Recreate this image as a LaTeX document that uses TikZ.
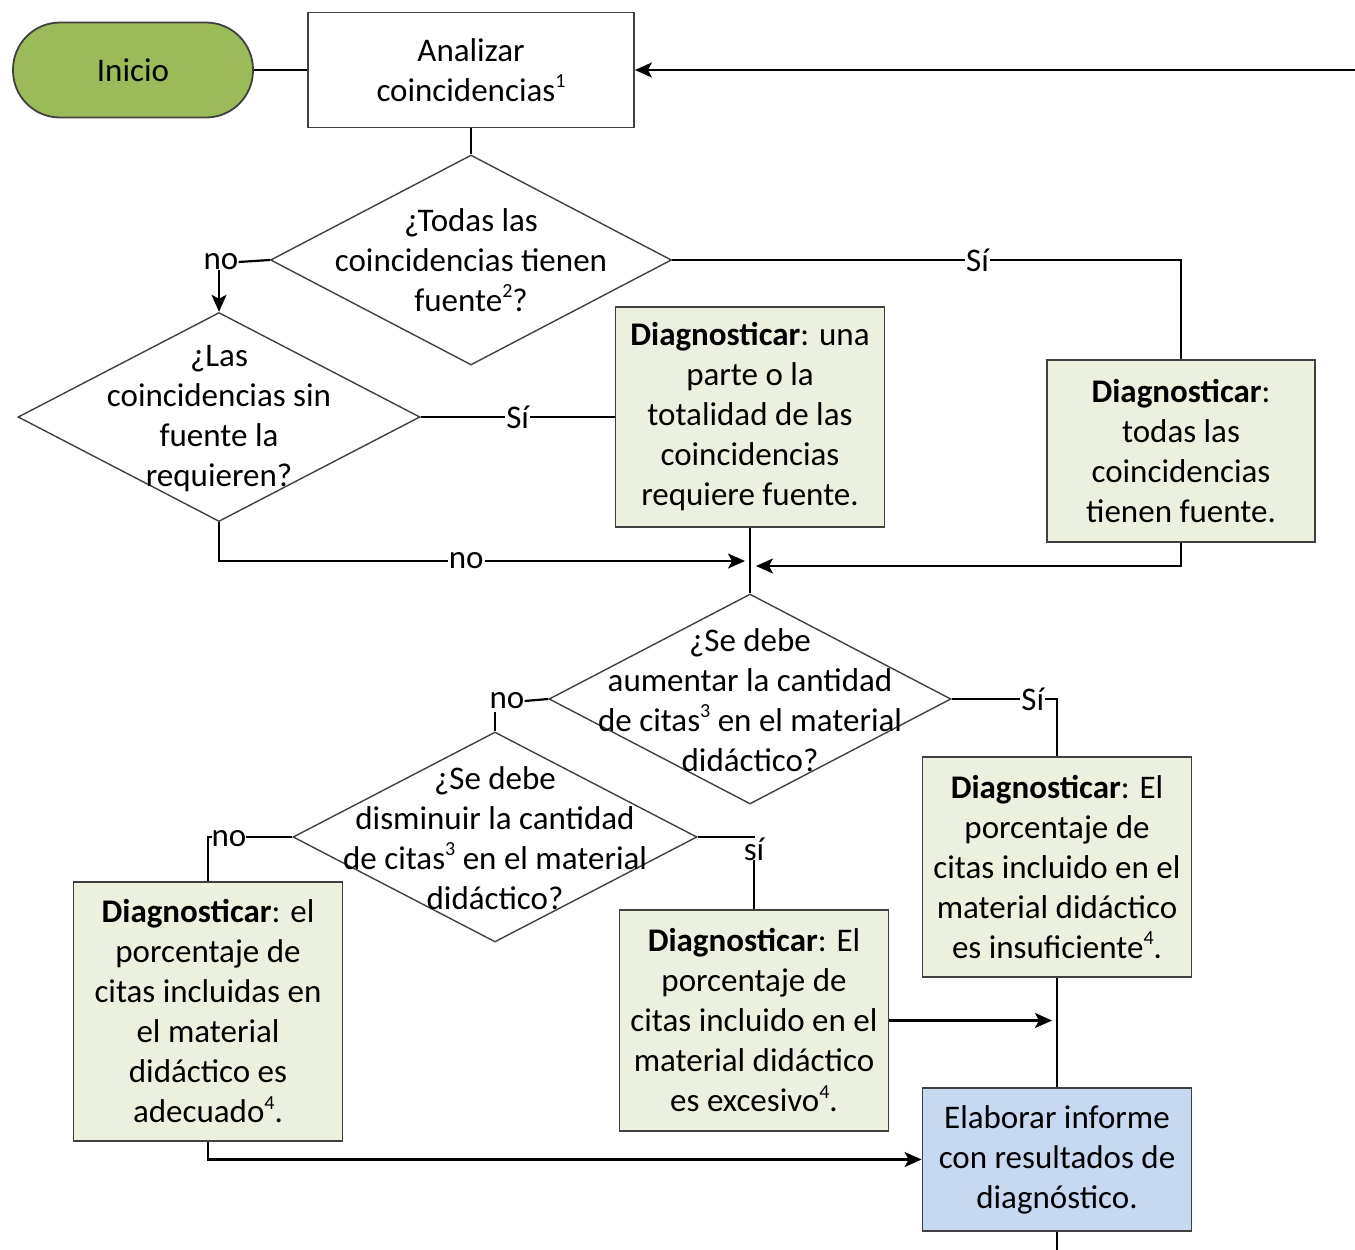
\documentclass[tikz,border=0pt]{standalone}
\usepackage{fontspec}
\setmainfont{Carlito}
\usetikzlibrary{shapes.geometric,arrows.meta}
\definecolor{startgreen}{HTML}{9BBB59}
\definecolor{diaggreen}{HTML}{EBF1DE}
\definecolor{repblue}{HTML}{C6D9F1}
\definecolor{bordergray}{HTML}{404040}
\newcommand\supnum[1]{\raisebox{0.42em}{\fontsize{20}{20}\selectfont #1}}
\begin{document}
\begin{tikzpicture}[x=1pt,y=-1pt,
  txt/.style={font=\fontsize{33}{40}\selectfont},
  box/.style={txt,draw=bordergray,line width=1.8pt,align=center,inner sep=0pt},
  diagbox/.style={box,fill=diaggreen,minimum width=269pt},
  dia/.style={draw=bordergray,line width=1.4pt,diamond,inner sep=0pt},
  dtext/.style={txt,align=center,inner sep=0pt},
  conn/.style={line width=2.2pt,black},
  arr/.style={conn,-{Stealth[length=17pt,width=15pt,inset=4pt]}},
  lab/.style={txt,fill=white,inner sep=1pt}]
\useasboundingbox (0,0) rectangle (1355,1250);

% nodes
\node[box,fill=startgreen,draw=bordergray,rounded corners=47pt,minimum width=240pt,minimum height=95pt] (ini) at (133,70) {Inicio};
\node[box,fill=white,minimum width=326pt,minimum height=115pt] (ana) at (471,70) {Analizar\\coincidencias\supnum{1}};

\node[dia,minimum width=401pt,minimum height=210pt] (d1) at (471,260) {};
\node[dtext] (t1) at (471,260) {¿Todas las\\coincidencias tienen\\fuente\supnum{2}?};

\node[dia,minimum width=402pt,minimum height=209pt] (d2) at (219,417) {};
\node[dtext] (t2) at (219,419) {¿Las\\coincidencias sin\\fuente la\\requieren?};

\node[diagbox,minimum height=220pt] (dg2) at (750,417) {\textbf{Diagnosticar}: una\\parte o la\\totalidad de las\\coincidencias\\requiere fuente.};
\node[diagbox,minimum width=268pt,minimum height=182pt] (dg3) at (1181,451) {\textbf{Diagnosticar}:\\todas las\\coincidencias\\tienen fuente.};

\node[dia,minimum width=402pt,minimum height=210pt] (d3) at (750,699) {};
\node[dtext] (t3) at (750,700) {¿Se debe\\aumentar la cantidad\\de citas\supnum{3} en el material\\didáctico?};

\node[dia,minimum width=404pt,minimum height=210pt] (d4) at (495,837) {};
\node[dtext] (t4) at (495,838) {¿Se debe\\disminuir la cantidad\\de citas\supnum{3} en el material\\didáctico?};

\node[diagbox,minimum height=220pt] (dg4) at (1057,867) {\textbf{Diagnosticar}: El\\porcentaje de\\citas incluido en el\\material didáctico\\es insuficiente\supnum{4}.};
\node[diagbox,minimum height=221pt] (dg4b) at (754,1020.5) {\textbf{Diagnosticar}: El\\porcentaje de\\citas incluido en el\\material didáctico\\es excesivo\supnum{4}.};
\node[diagbox,minimum height=259pt] (dg5) at (208,1011.5) {\textbf{Diagnosticar}: el\\porcentaje de\\citas incluidas en\\el material\\didáctico es\\adecuado\supnum{4}.};
\node[box,fill=repblue,minimum width=269pt,minimum height=143pt] (rep) at (1057,1159.5) {Elaborar informe\\con resultados de\\diagnóstico.};

% coordinates
\coordinate (loopin) at (1355,70);
\coordinate (j1) at (745,561);
\coordinate (j2) at (756,566);
\coordinate (j3) at (1052,1020.5);
\coordinate (bot) at (1057,1250);

% connectors
\draw[conn] (ini.east) -- (ana.west);
\draw[arr] (loopin) -- (ana.east);
\draw[conn] (ana.south) -- (d1.north);

\draw[conn] (d1.east) -- node[lab,pos=0.6]{Sí} (d1.east -| dg3.north) -- (dg3.north);
\node[lab,inner sep=0pt] (no1) at (221,262) {no};
\draw[conn] (d1.west) -- (no1.east);
\draw[arr] (d2.north |- no1.south) -- (d2.north);

\draw[conn] (d2.east) -- node[lab]{Sí} (dg2.west);
\draw[arr] (d2.south) |- node[lab,pos=0.735]{no} (j1);
\draw[conn] (dg2.south) -- (d3.north);
\draw[arr] (dg3.south) |- (j2);

\node[lab,inner sep=0pt] (no3) at (507,701) {no};
\draw[conn] (d3.west) -- (no3.east);
\draw[conn] ([yshift=-3pt]d4.north |- no3.south) -- (d4.north);
\draw[conn] (d3.east) -- node[lab,pos=0.77]{Sí} (d3.east -| dg4.north) -- (dg4.north);

\draw[conn] (d4.west) -- (d4.west -| dg5.north) -- (dg5.north);
\node[lab,inner sep=0pt] (no4) at (229,839) {no};
\draw[conn] (d4.east) -- (d4.east -| dg4b.north) -- (dg4b.north);
\node[lab,inner sep=0pt] (si4) at (754,849) {sí};

\draw[arr] (dg4b.east) -- (j3);
\draw[conn] (dg4.south) -- (rep.north);
\draw[arr] (dg5.south) |- (rep.west);
\draw[conn] (rep.south) -- (bot);
\end{tikzpicture}
\end{document}
